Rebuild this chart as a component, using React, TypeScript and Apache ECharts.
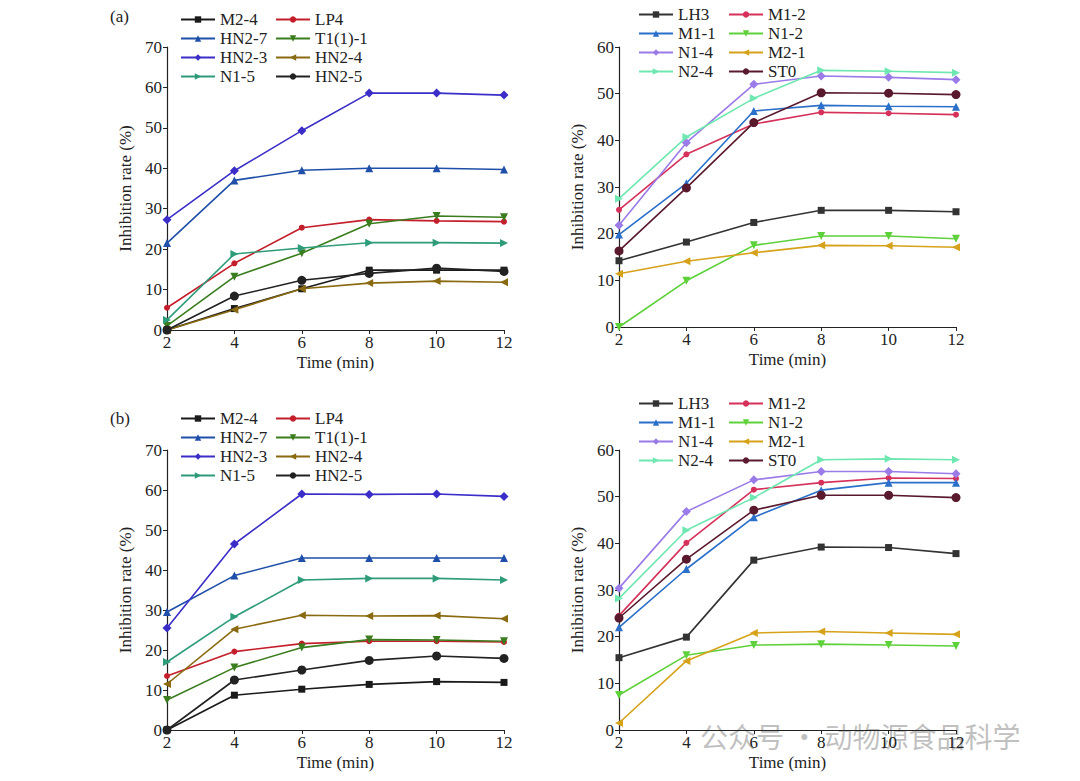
import React, { useEffect, useRef } from 'react';
import * as echarts from 'echarts';

const times = [2, 4, 6, 8, 10, 12];

// left-hand panels: strain names, colours, symbols
const leftNames = ['M2-4', 'LP4', 'HN2-7', 'T1(1)-1', 'HN2-3', 'HN2-4', 'N1-5', 'HN2-5'];
const leftColors = ['#1a1a1a', '#c41e2a', '#1f4fa8', '#3a7d1e', '#3b2ec8', '#8a6a10', '#2e9c7a', '#222222'];
const rightNames = ['LH3', 'M1-2', 'M1-1', 'N1-2', 'N1-4', 'M2-1', 'N2-4', 'ST0'];
const rightColors = ['#333333', '#d6315a', '#2a6fc9', '#5ed13a', '#9a7be8', '#d6a21a', '#6ee8b0', '#5a1a2e'];
const symbols = ['rect', 'circle', 'triangle', 'triangle', 'diamond', 'triangle', 'triangle', 'circle'];
const symbolRotate = [0, 0, 0, 180, 0, 90, -90, 0];
const symbolSizes = [7, 6, 8, 8, 9, 8, 8, 9];

// (a) left
const aLeft = [
  [0, 5.3, 10.2, 14.8, 14.8, 14.8],
  [5.5, 16.5, 25.3, 27.3, 27, 26.8],
  [21.5, 37, 39.5, 40, 40, 39.7],
  [1, 13.2, 19, 26.3, 28.2, 27.9],
  [27.3, 39.4, 49.3, 58.6, 58.6, 58.1],
  [0, 5, 10.2, 11.6, 12.1, 11.8],
  [2.5, 18.8, 20.3, 21.6, 21.6, 21.5],
  [0, 8.4, 12.3, 14, 15.3, 14.5],
];
// (a) right
const aRight = [
  [14.2, 18.2, 22.4, 25, 25, 24.7],
  [25.1, 37, 43.5, 46, 45.8, 45.5],
  [19.8, 30.8, 46.3, 47.5, 47.3, 47.2],
  [0, 9.9, 17.5, 19.5, 19.5, 18.9],
  [21.8, 39.5, 52, 53.8, 53.5, 53],
  [11.4, 14.1, 15.9, 17.5, 17.4, 17.1],
  [27.5, 40.7, 49, 55, 54.8, 54.5],
  [16.3, 29.8, 43.8, 50.2, 50.1, 49.8],
];
// (b) left
const bLeft = [
  [0, 8.7, 10.2, 11.4, 12.1, 11.9],
  [13.5, 19.6, 21.6, 22.2, 22.2, 22],
  [29.5, 38.6, 43, 43, 43, 43],
  [7.5, 15.6, 20.6, 22.6, 22.5, 22.2],
  [25.5, 46.5, 59, 58.9, 59, 58.4],
  [11.5, 25.2, 28.7, 28.5, 28.6, 27.8],
  [17, 28.3, 37.5, 37.9, 37.9, 37.5],
  [0, 12.5, 15, 17.4, 18.5, 17.9],
];
// (b) right
const bRight = [
  [15.5, 19.9, 36.4, 39.2, 39.1, 37.8],
  [24.5, 40.1, 51.5, 53, 54, 53.9],
  [22, 34.5, 45.6, 51.4, 53, 53],
  [7.5, 16, 18.2, 18.4, 18.2, 18],
  [30.4, 46.8, 53.6, 55.4, 55.4, 54.9],
  [1.5, 14.8, 20.8, 21.1, 20.8, 20.5],
  [28.2, 42.8, 49.8, 57.9, 58.1, 57.9],
  [24, 36.6, 47.1, 50.3, 50.3, 49.8],
];

const font = 'Liberation Serif';

const App: React.FC = () => {
  const chartRef = useRef<HTMLDivElement>(null);

  useEffect(() => {
    const chart = echarts.init(chartRef.current, null, { renderer: 'svg' });

    const panels = [
      { grid: { left: 167, top: 47, width: 337, height: 283 }, max: 70, names: leftNames, colors: leftColors, data: aLeft, legendTop: 6, legendX: [175, 270] },
      { grid: { left: 619, top: 47, width: 337, height: 280 }, max: 60, names: rightNames, colors: rightColors, data: aRight, legendTop: 1, legendX: [633, 723] },
      { grid: { left: 167, top: 450, width: 337, height: 280 }, max: 70, names: leftNames, colors: leftColors, data: bLeft, legendTop: 405, legendX: [175, 270] },
      { grid: { left: 619, top: 450, width: 337, height: 280 }, max: 60, names: rightNames, colors: rightColors, data: bRight, legendTop: 390, legendX: [633, 723] },
    ];

    const axisStyle = { lineStyle: { color: '#222', width: 1.2 } };
    const labelStyle = { fontFamily: font, fontSize: 17, color: '#222' };
    const grids: any[] = [];
    const xAxes: any[] = [];
    const yAxes: any[] = [];
    const series: any[] = [];
    const legends: any[] = [];

    panels.forEach((p, gi) => {
      grids.push(p.grid);
      xAxes.push({
        type: 'value', gridIndex: gi, min: 2, max: 12, interval: 2,
        name: 'Time (min)', nameLocation: 'middle', nameGap: 24,
        nameTextStyle: { fontFamily: font, fontSize: 17, color: '#222' },
        axisLine: axisStyle, axisTick: { inside: false, length: 4, lineStyle: { color: '#222' } },
        axisLabel: { ...labelStyle, margin: 4 }, splitLine: { show: false },
      });
      yAxes.push({
        type: 'value', gridIndex: gi, min: 0, max: p.max, interval: 10,
        name: 'Inhibition rate (%)', nameLocation: 'middle', nameGap: 33,
        nameTextStyle: { fontFamily: font, fontSize: 17, color: '#222' },
        axisLine: { show: true, ...axisStyle }, axisTick: { show: true, length: 4, lineStyle: { color: '#222' } },
        axisLabel: { ...labelStyle, margin: 5 }, splitLine: { show: false },
      });
      p.names.forEach((n, i) => {
        series.push({
          name: n, type: 'line', xAxisIndex: gi, yAxisIndex: gi,
          data: times.map((t, k) => [t, p.data[i][k]]),
          symbol: symbols[i], symbolRotate: symbolRotate[i], symbolSize: symbolSizes[i],
          color: p.colors[i], lineStyle: { width: 1.6, color: p.colors[i] },
          itemStyle: { color: p.colors[i] },
        });
      });
      [0, 1].forEach(col => {
        legends.push({
          orient: 'vertical', left: p.legendX[col], top: p.legendTop,
          data: p.names.filter((_, i) => i % 2 === col),
          itemWidth: 34, itemHeight: 8, itemGap: 2,
          textStyle: { fontFamily: font, fontSize: 17, color: '#222' },
          selectedMode: false,
        });
      });
    });

    const option = {
      animation: false,
      backgroundColor: '#fff',
      grid: grids,
      xAxis: xAxes,
      yAxis: yAxes,
      legend: legends,
      series,
      graphic: [
        { type: 'text', left: 110, top: 8, style: { text: '(a)', fontFamily: font, fontSize: 17, fill: '#222' } },
        { type: 'text', left: 110, top: 410, style: { text: '(b)', fontFamily: font, fontSize: 17, fill: '#222' } },
        { type: 'text', left: 700, top: 722, silent: true, style: { text: '公众号 · 动物源食品科学', fontFamily: 'Noto Sans CJK SC', fontSize: 28, fill: 'rgba(150,150,150,0.6)' } },
      ],
    };

    chart.setOption(option);
    return () => {
      chart.dispose();
    };
  }, []);

  return <div ref={chartRef} style={{ position: 'absolute', left: 0, top: 0, width: '1080px', height: '781px' }} />;
};

export default App;
